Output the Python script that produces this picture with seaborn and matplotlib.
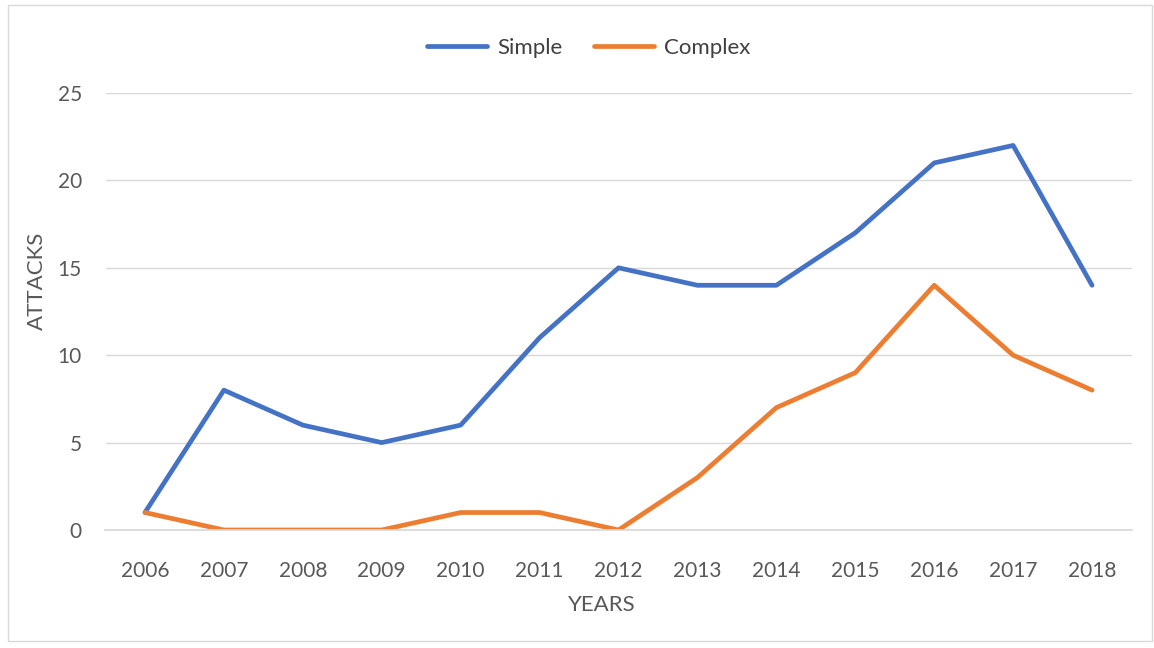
import matplotlib
matplotlib.use('Agg')
import matplotlib.pyplot as plt
import seaborn as sns
import pandas as pd
from matplotlib.patches import Rectangle

years = ['2006', '2007', '2008', '2009', '2010', '2011', '2012',
         '2013', '2014', '2015', '2016', '2017', '2018']
simple = [1, 8, 6, 5, 6, 11, 15, 14, 14, 17, 21, 22, 14]
complex_ = [1, 0, 0, 0, 1, 1, 0, 3, 7, 9, 14, 10, 8]

df = pd.DataFrame({'Year': years * 2,
                   'Attacks': simple + complex_,
                   'Type': ['Simple'] * len(years) + ['Complex'] * len(years)})

sns.set_theme(style='white')
plt.rcParams['font.family'] = ['Lato', 'DejaVu Sans']

fig = plt.figure(figsize=(11.54, 6.48), dpi=100)
ax = fig.add_axes([105.5 / 1154, 1 - 530 / 648, 1026 / 1154, 437 / 648])

sns.lineplot(data=df, x='Year', y='Attacks', hue='Type', ax=ax,
             palette={'Simple': '#4472C4', 'Complex': '#ED7D31'},
             linewidth=3.4, sort=False)

ax.set_xlim(-0.5, len(years) - 0.5)
ax.set_ylim(0, 25)
ax.set_yticks([0, 5, 10, 15, 20, 25])
ax.yaxis.grid(True, color='#d9d9d9', linewidth=1)
ax.set_axisbelow(True)
for s in ['top', 'right', 'left']:
    ax.spines[s].set_visible(False)
ax.spines['bottom'].set_color('#d9d9d9')
ax.tick_params(axis='both', colors='#595959', labelsize=15, length=0)
ax.tick_params(axis='x', pad=22)
ax.tick_params(axis='y', pad=17)

# axis titles sit a bit off-centre in the original
ax.set_xlabel('YEARS', fontsize=16, color='#595959', va='center', ha='center')
ax.xaxis.set_label_coords(0.484, -0.172)
ax.set_ylabel('ATTACKS', fontsize=16, color='#595959', va='center', ha='center')
ax.yaxis.set_label_coords(-0.0668, 0.570)

ax.legend(loc='center', bbox_to_anchor=(0.471, 1.103), ncol=2, frameon=False,
          fontsize=16, handlelength=2.7, handletextpad=0.45, columnspacing=1.4,
          labelcolor='#404040')

fig.patches.append(Rectangle((8 / 1154, 1 - 641 / 648), 1144 / 1154, 636 / 648,
                             transform=fig.transFigure, fill=False,
                             edgecolor='#d9d9d9', linewidth=1))

fig.savefig('out.png', dpi=100)
